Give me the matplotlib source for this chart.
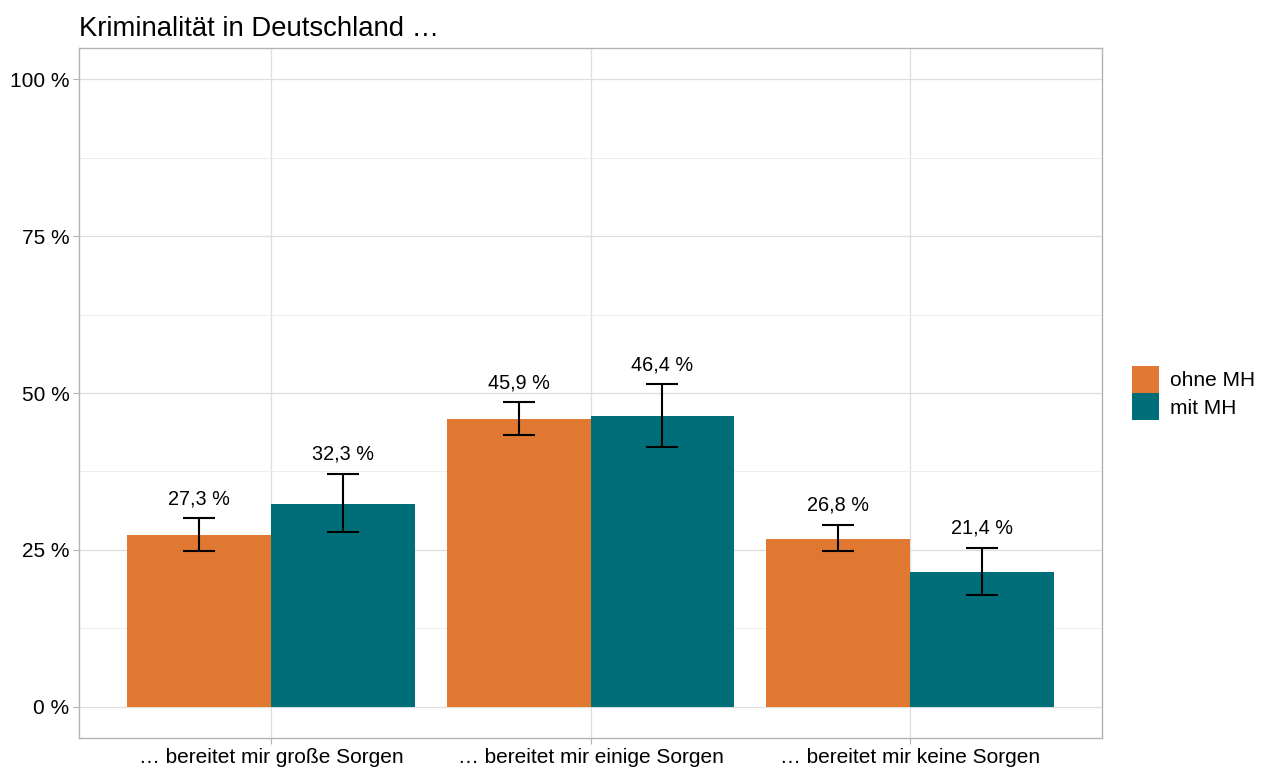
import numpy as np
import matplotlib.pyplot as plt

plt.rcParams['font.family'] = ['Liberation Sans', 'DejaVu Sans']

categories = ["… bereitet mir große Sorgen", "… bereitet mir einige Sorgen", "… bereitet mir keine Sorgen"]
groups = ["ohne MH", "mit MH"]
ohne = [27.3, 45.9, 26.8]
ohne_lo = [24.8, 43.3, 24.8]
ohne_hi = [30.0, 48.5, 29.0]
mit = [32.3, 46.4, 21.4]
mit_lo = [27.9, 41.4, 17.8]
mit_hi = [37.1, 51.4, 25.3]
colors = ["#E07832", "#006E78"]

fig = plt.figure(figsize=(12.67, 7.68), dpi=100)
ax = fig.add_axes([0.0624, 0.039, 0.8074, 0.8985])

x = np.arange(len(categories))
w = 0.45
for i, (vals, lo, hi) in enumerate([(ohne, ohne_lo, ohne_hi), (mit, mit_lo, mit_hi)]):
    xs = x + (i - 0.5) * w
    ax.bar(xs, vals, width=w, color=colors[i], label=groups[i], zorder=2)
    vals = np.array(vals)
    yerr = [vals - np.array(lo), np.array(hi) - vals]
    ax.errorbar(xs, vals, yerr=yerr, fmt='none', ecolor='black', elinewidth=1.5,
                capsize=11.5, capthick=1.5, zorder=3)
    for xi, v, h in zip(xs, vals, hi):
        ax.text(xi, h + 1.6, f"{v:.1f} %".replace('.', ','), ha='center', va='bottom',
                fontsize=14.3, color='black', zorder=4)

ax.set_xlim(-0.6, 2.6)
ax.set_ylim(-5, 105)
ax.set_xticks(x)
ax.set_xticklabels(categories, fontsize=15, color='black')
ax.set_yticks([0, 25, 50, 75, 100])
ax.set_yticklabels(["0 %", "25 %", "50 %", "75 %", "100 %"], fontsize=15, color='black')
ax.set_yticks([12.5, 37.5, 62.5, 87.5], minor=True)
ax.tick_params(axis='both', which='major', color='#B3B3B3', length=4, width=0.8, pad=3)
ax.tick_params(axis='y', which='minor', length=0)
ax.grid(True, which='major', color='#DEDEDE', linewidth=0.9, zorder=0)
ax.grid(True, which='minor', axis='y', color='#EBEBEB', linewidth=0.6, zorder=0)
ax.set_axisbelow(True)
for s in ax.spines.values():
    s.set_color('#B3B3B3')
    s.set_linewidth(1.0)

ax.set_title("Kriminalität in Deutschland …", loc='left', fontsize=19.8, pad=9, x=0)

ax.legend(loc='center left', bbox_to_anchor=(1.011, 0.5), frameon=False, fontsize=15,
          handlelength=1.3, handleheight=1.65, handletextpad=0.5, labelspacing=0.0)

fig.savefig("out.png", dpi=100)
